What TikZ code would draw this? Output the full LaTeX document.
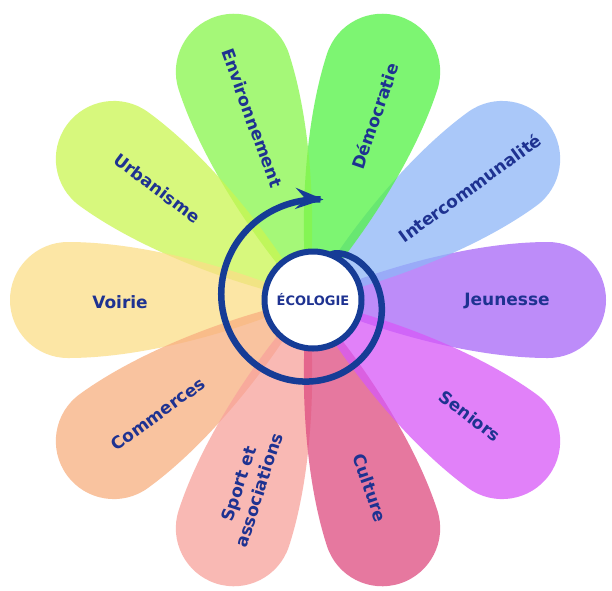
\documentclass[tikz,border=0pt]{standalone}
\usepackage{fontspec}
\setmainfont{DejaVu Sans}
\usetikzlibrary{arrows.meta}
\definecolor{navy}{RGB}{30,50,145}
\definecolor{ringblue}{RGB}{22,60,150}
\definecolor{pJeu}{RGB}{168,102,248}
\definecolor{pInt}{RGB}{142,182,248}
\definecolor{pDem}{RGB}{82,242,68}
\definecolor{pEnv}{RGB}{135,246,75}
\definecolor{pUrb}{RGB}{202,246,82}
\definecolor{pVoi}{RGB}{251,222,135}
\definecolor{pCom}{RGB}{248,175,128}
\definecolor{pSpo}{RGB}{248,162,155}
\definecolor{pCul}{RGB}{222,75,128}
\definecolor{pSen}{RGB}{215,88,248}
\tikzset{
  petal/.style={fill opacity=0.75, draw=none},
  lbl/.style={text=navy, font=\bfseries\fontsize{17}{21}\selectfont, inner sep=0pt, align=center},
  spiral/.style={draw=ringblue, line width=6.5pt, -{Stealth[length=28pt,width=21pt,inset=10pt]}},
  centre/.style={circle, draw=ringblue, line width=6pt, fill=white, minimum size=97pt, inner sep=0pt, text=navy, font=\bfseries\fontsize{13}{15}\selectfont},
}
\newcommand{\flpetal}[2]{%
  \begin{scope}[shift={(308,300)},rotate=#1]
    \fill[petal,fill=#2] (0,0) .. controls (60,28) and (160,58) .. (240,58)
      arc[start angle=90,end angle=-90,radius=58]
      .. controls (160,-58) and (60,-28) .. (0,0) -- cycle;
  \end{scope}}
\begin{document}
\begin{tikzpicture}[x=1pt,y=-1pt]
\useasboundingbox (0,0) rectangle (612,590);
\fill[white] (0,0) rectangle (612,590);
\flpetal{0}{pJeu}
\flpetal{36}{pInt}
\flpetal{72}{pDem}
\flpetal{108}{pEnv}
\flpetal{144}{pUrb}
\flpetal{180}{pVoi}
\flpetal{216}{pCom}
\flpetal{252}{pSpo}
\flpetal{288}{pCul}
\flpetal{324}{pSen}
\node[lbl] (jeu) at (507,301) {Jeunesse};
\node[lbl,rotate=36] (int) at (470,188) {Intercommunalité};
\node[lbl,rotate=71] (dem) at (375,116) {Démocratie};
\node[lbl,rotate=-70] (env) at (252,118) {Environnement};
\node[lbl,rotate=-37] (urb) at (157,188) {Urbanisme};
\node[lbl] (voi) at (120,302) {Voirie};
\node[lbl,rotate=36] (com) at (158,414) {Commerces};
\node[lbl,rotate=72] (spo) at (249,487) {Sport et\\associations};
\node[lbl,rotate=-71] (cul) at (370,488) {Culture};
\node[lbl,rotate=-37] (sen) at (470,416) {Seniors};
\draw[spiral] plot[domain=-68:276, samples=150, variable=\a, smooth]
  ({313+(48+53*((\a+68.5)/344.5)^0.6)*cos(\a)}, {300+(48+53*((\a+68.5)/344.5)^0.6)*sin(\a)});
\node[centre] (eco) at (313,300) {ÉCOLOGIE};
\end{tikzpicture}
\end{document}
